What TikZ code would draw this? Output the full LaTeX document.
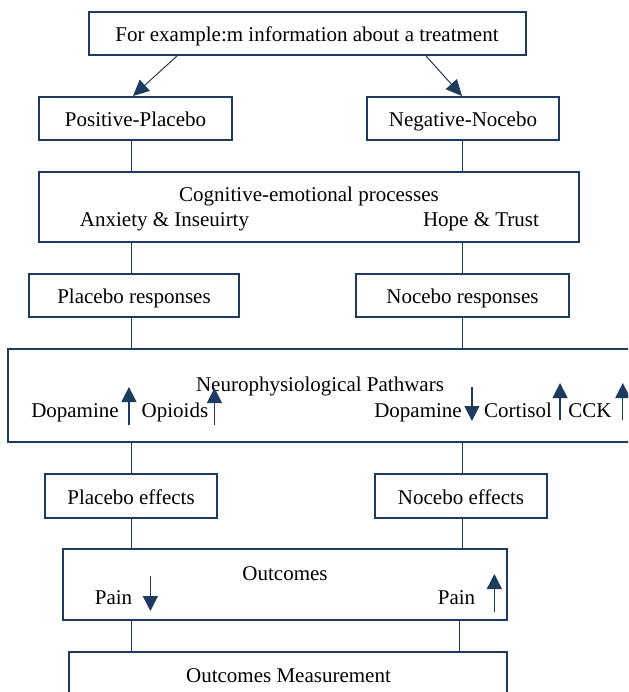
\documentclass[tikz,border=0pt]{standalone}
\usepackage{fontspec}
\setmainfont{Liberation Serif}
\usetikzlibrary{calc,positioning,arrows.meta}
\definecolor{PNNavy}{HTML}{1D3A5F}
\tikzset{
  pnBase/.style={
    font=\fontsize{21pt}{24pt}\selectfont,
    text=black,
    inner sep=0pt
  },
  pnBox/.style={
    pnBase,
    draw=PNNavy,
    fill=white,
    line width=2pt,
    text height=16pt,
    text depth=0pt
  },
  pnLabel/.style={
    pnBase,
    anchor=base
  },
  pnLine/.style={
    draw=PNNavy,
    line width=1pt
  },
  pnArrow/.style={
    PNNavy,
    line width=1pt,
    -{Triangle[length=16pt,width=15pt]}
  },
  pnMark/.style={
    PNNavy,
    line width=1.3pt,
    -{Triangle[length=15pt,width=15pt]}
  }
}

\begin{document}
\begin{tikzpicture}[x=1pt, y=-1pt]
        \useasboundingbox (0,0) rectangle (628,692);
        \clip (0,0) rectangle (628,692);
        \coordinate (lcol) at (131.5,0);
        \coordinate (rcol) at (462,0);

        % boxes
        \node (top) [pnBox, minimum width=437pt, minimum height=43pt] at (307,33.5) {For example:m information about a treatment};
        \node (pos) [pnBox, minimum width=193pt, minimum height=43pt] at (135.5,118.5) {Positive-Placebo};
        \node (neg) [pnBox, minimum width=192pt, minimum height=43pt] at (463,118.5) {Negative-Nocebo};
        \node (cog) [pnBox, minimum width=540pt, minimum height=70pt] at (309,207) {};
        \node (plres) [pnBox, minimum width=210pt, minimum height=43pt] at (134,295.5) {Placebo responses};
        \node (nores) [pnBox, minimum width=213pt, minimum height=43pt] at (462.5,295.5) {Nocebo responses};
        \node (neuro) [pnBox, minimum width=632pt, minimum height=93pt] at (324,395.5) {};
        \node (pleff) [pnBox, minimum width=172pt, minimum height=44pt] at (131,496) {Placebo effects};
        \node (noeff) [pnBox, minimum width=172pt, minimum height=44pt] at (461,496) {Nocebo effects};
        \node (outc) [pnBox, minimum width=444pt, minimum height=71pt] at (285,584.5) {};
        \node (meas) [pnBox, minimum width=438pt, minimum height=68pt] at (288,686) {};

        % texts inside the wide boxes
        \node (cogT) [pnLabel] at (309,202) {Cognitive-emotional processes};
        \node (cogL) [pnLabel] at (164.5,227) {Anxiety \& Inseuirty};
        \node (cogR) [pnLabel] at (481,227) {Hope \& Trust};
        \node (neuroT) [pnLabel] at (320,391) {Neurophysiological Pathwars};
        \node (dopL) [pnLabel] at (75,417) {Dopamine};
        \node (opi) [pnLabel] at (175,417) {Opioids};
        \node (dopR) [pnLabel] at (418,417) {Dopamine};
        \node (cort) [pnLabel] at (518,417) {Cortisol};
        \node (cck) [pnLabel] at (590,417) {CCK};
        \node (outcT) [pnLabel] at (285,580) {Outcomes};
        \node (painL) [pnLabel] at (113.5,604) {Pain};
        \node (painR) [pnLabel] at (456.5,604) {Pain};
        \node (measT) [pnLabel] at (288.5,682) {Outcomes Measurement};

        % up and down marks
        \draw [pnMark] ($(dopL.base east)+(10,8)$) -- ++(0,-38);
        \draw [pnMark] ($(opi.base east)+(6,8)$) -- ++(0,-37);
        \draw [pnMark] ($(dopR.base east)+(10,-30)$) -- ++(0,34);
        \draw [pnMark] ($(cort.base east)+(8,3)$) -- ++(0,-37);
        \draw [pnMark] ($(cck.base east)+(11,3)$) -- ++(0,-37);
        \draw [pnMark] ($(painL.base east)+(18,-28)$) -- ++(0,35);
        \draw [pnMark] ($(painR.base east)+(19,8)$) -- ++(0,-38);

        % connectors
        \draw [pnArrow] ([xshift=-130pt]top.south) -- ([xshift=-2.5pt]pos.north);
        \draw [pnArrow] ([xshift=119pt]top.south) -- ([xshift=-1pt]neg.north);
        \draw [pnLine] (pos.south -| lcol) -- (cog.north -| lcol);
        \draw [pnLine] (neg.south -| rcol) -- (cog.north -| rcol);
        \draw [pnLine] (cog.south -| lcol) -- (plres.north -| lcol);
        \draw [pnLine] (cog.south -| rcol) -- (nores.north -| rcol);
        \draw [pnLine] (plres.south -| lcol) -- (neuro.north -| lcol);
        \draw [pnLine] (nores.south -| rcol) -- (neuro.north -| rcol);
        \draw [pnLine] (neuro.south -| lcol) -- (pleff.north -| lcol);
        \draw [pnLine] (neuro.south -| rcol) -- (noeff.north -| rcol);
        \draw [pnLine] (pleff.south -| lcol) -- (outc.north -| lcol);
        \draw [pnLine] (noeff.south -| rcol) -- (outc.north -| rcol);
        \draw [pnLine] (outc.south -| lcol) -- (meas.north -| lcol);
        \draw [pnLine] ([xshift=-3pt]outc.south -| rcol) -- ([xshift=-3pt]meas.north -| rcol);
      \end{tikzpicture}
\end{document}
